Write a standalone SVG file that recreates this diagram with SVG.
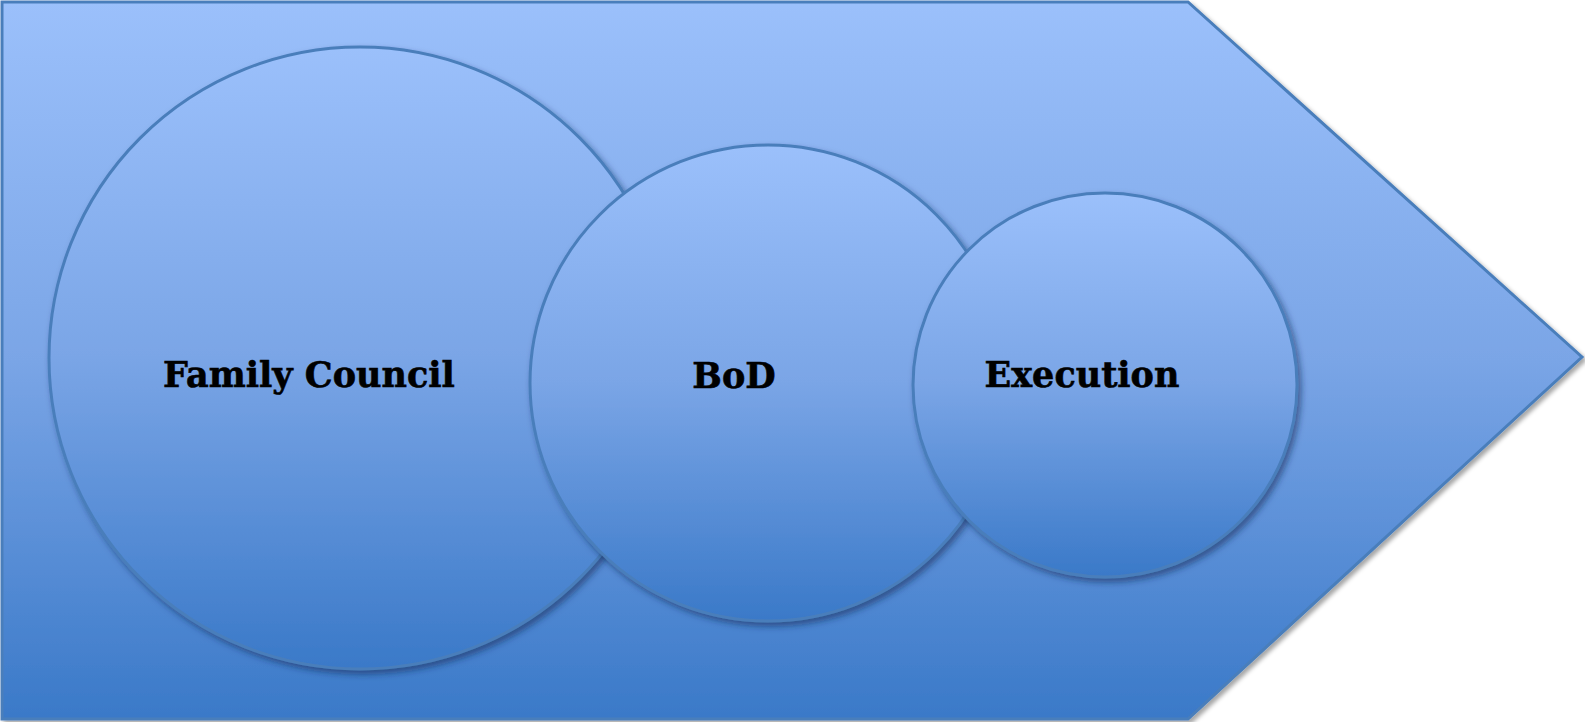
<svg xmlns="http://www.w3.org/2000/svg" width="1585" height="722" viewBox="0 0 1585 722">
  <style>
    .shape { stroke: #4a7ebb; stroke-width: 3; }
    .lbl { font-family: "DejaVu Serif", Georgia, serif; font-weight: bold; font-size: 35px; fill: #000; stroke: #000; stroke-width: 0.6; text-anchor: middle; }
  </style>
  <defs>
    <linearGradient id="gBg" x1="0" y1="0" x2="0" y2="1">
      <stop offset="0" stop-color="#9bc0fb"/>
      <stop offset="0.5" stop-color="#7aa5e6"/>
      <stop offset="1" stop-color="#3a79c8"/>
    </linearGradient>
    <linearGradient id="gC" x1="0" y1="0" x2="0" y2="1">
      <stop offset="0" stop-color="#9bc0fb"/>
      <stop offset="0.5" stop-color="#7aa5e6"/>
      <stop offset="1" stop-color="#3a79c8"/>
    </linearGradient>
    <filter id="shBg" x="-5%" y="-5%" width="110%" height="110%">
      <feDropShadow dx="3" dy="3" stdDeviation="2" flood-color="#000" flood-opacity="0.35"/>
    </filter>
    <filter id="shC" x="-10%" y="-10%" width="120%" height="120%">
      <feDropShadow dx="3" dy="4" stdDeviation="3" flood-color="#0a2a55" flood-opacity="0.55"/>
    </filter>
  </defs>

  <g id="arrow-background">
    <path class="shape" d="M2,2 L1188,2 L1582,357 L1188,719 L2,719 Z" fill="url(#gBg)" filter="url(#shBg)"/>
  </g>

  <g id="connectors"></g>

  <g id="node-family-council">
    <circle class="shape" cx="360" cy="358" r="311" fill="url(#gC)" filter="url(#shC)"/>
    <text class="lbl" x="309" y="387">Family Council</text>
  </g>

  <g id="node-bod">
    <circle class="shape" cx="768" cy="383" r="238" fill="url(#gC)" filter="url(#shC)"/>
    <text class="lbl" x="734" y="388">BoD</text>
  </g>

  <g id="node-execution">
    <circle class="shape" cx="1105" cy="385" r="192" fill="url(#gC)" filter="url(#shC)"/>
    <text class="lbl" x="1082" y="387">Execution</text>
  </g>
</svg>
